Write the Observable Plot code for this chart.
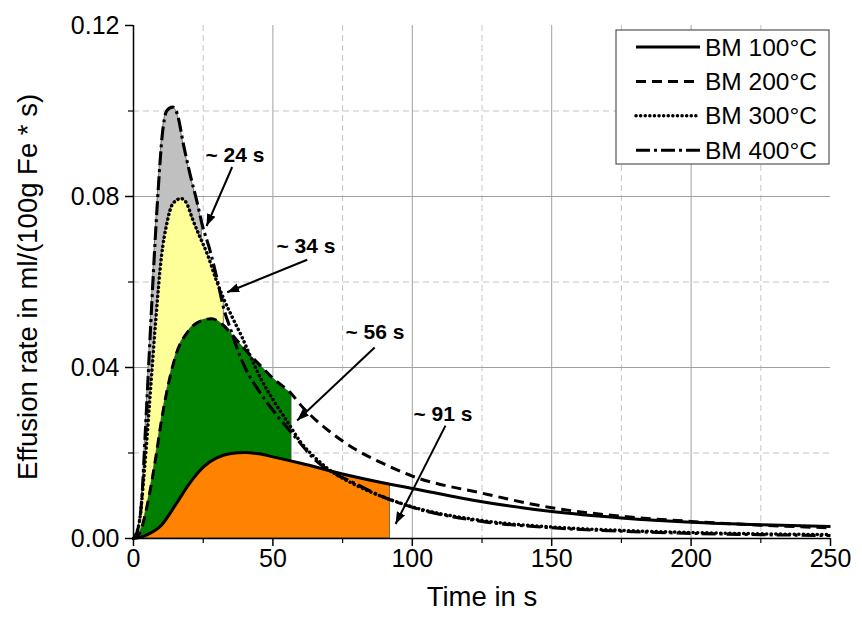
<!DOCTYPE html>
<html><head><meta charset="utf-8">
<script src="https://cdn.jsdelivr.net/npm/d3@7"></script>
<script src="https://cdn.jsdelivr.net/npm/@observablehq/plot@0.6"></script>
<style>body{margin:0;background:#fff;} svg{font-family:"Liberation Sans",Arial,sans-serif;}</style>
</head><body><div id="chart"></div>
<script>
// ---- data ----
const seriesNames = ["BM 100°C", "BM 200°C", "BM 300°C", "BM 400°C"];

const t100 = [0, 2, 5, 10, 15, 20, 25, 30, 35, 40, 45, 50, 60, 75, 92, 100, 125, 150, 175, 200, 225, 250];
const v100 = [0, 0.0002, 0.0009, 0.0031, 0.0078, 0.0128, 0.0167, 0.0189, 0.0199, 0.0201, 0.0198, 0.0191, 0.0176, 0.0151, 0.0127, 0.0117, 0.0086, 0.0063, 0.0048, 0.0038, 0.0032, 0.0028];

const t200 = [0, 2, 5, 8, 10, 12, 15, 20, 25, 28, 32, 36, 40, 45, 50, 56.7, 60, 70, 80, 90, 100, 125, 150, 175, 200, 225, 250];
const v200 = [0, 0.001, 0.008, 0.019, 0.0275, 0.0345, 0.0425, 0.0488, 0.0511, 0.0514, 0.0500, 0.0472, 0.0442, 0.0408, 0.0375, 0.0338, 0.0312, 0.0252, 0.0207, 0.0174, 0.0146, 0.0106, 0.0072, 0.0052, 0.0040, 0.0031, 0.0025];

const t300 = [0, 2, 4, 6, 8, 10, 12, 14, 17, 19, 21, 23.5, 26.5, 29.5, 32.4, 36, 39, 42, 46, 50, 55, 60, 65, 70, 80, 90, 100, 125, 150, 175, 200, 225, 250];
const v300 = [0, 0.0035, 0.0166, 0.0338, 0.0512, 0.0658, 0.0738, 0.0782, 0.0795, 0.0785, 0.0750, 0.0710, 0.0665, 0.0608, 0.0560, 0.0510, 0.0470, 0.0425, 0.0370, 0.0325, 0.0275, 0.0225, 0.0190, 0.0162, 0.0124, 0.0096, 0.0074, 0.0042, 0.0027, 0.0019, 0.0014, 0.0011, 0.0009];

const t400 = [0, 1.3, 3, 4.3, 5.5, 6.7, 8, 9, 10.3, 12, 14, 15.7, 18, 20.4, 22.8, 24.5, 27.6, 30, 32.4, 34.8, 37.2, 40, 45, 50, 57, 65, 80, 90, 100, 125, 150, 175, 200, 225, 250];
const v400 = [0, 0.0015, 0.0095, 0.0257, 0.0412, 0.0568, 0.0724, 0.083, 0.0943, 0.1001, 0.1009, 0.0993, 0.0919, 0.0849, 0.0787, 0.0738, 0.067, 0.0607, 0.0537, 0.049, 0.0444, 0.0400, 0.0345, 0.0300, 0.0245, 0.0185, 0.0127, 0.0096, 0.0073, 0.0040, 0.0025, 0.0017, 0.0012, 0.0009, 0.0007];

const fillEnd = [92, 56.7, 32.4, 24.5];
const fillColors = ["#ff8200", "#008000", "#ffff99", "#c0c0c0"];

const xTicks = [0, 50, 100, 150, 200, 250];
const xMinor = [25, 75, 125, 175, 225];
const yTicks = [0, 0.04, 0.08, 0.12];
const yMinor = [0.02, 0.06, 0.10];

const noteText = ["~ 24 s", "~ 34 s", "~ 56 s", "~ 91 s"];
const noteX = [25.8, 51.3, 76, 100.4];
const noteY = [0.0896, 0.0683, 0.0482, 0.029];
const arrowX1 = [35.4, 62.3, 86.5, 111.9];
const arrowY1 = [0.0869, 0.0652, 0.0447, 0.0264];
const arrowX2 = [26.2, 33.6, 58.7, 94];
const arrowY2 = [0.0731, 0.0576, 0.0276, 0.0034];

// ---- build ----
const tArr = [t100, t200, t300, t400];
const vArr = [v100, v200, v300, v400];
const styles = [
  {strokeDasharray: null, strokeLinecap: "butt", strokeWidth: 3},
  {strokeDasharray: "10,6", strokeLinecap: "butt", strokeWidth: 3},
  {strokeDasharray: "0.1,4.5", strokeLinecap: "round", strokeWidth: 3.5},
  {strokeDasharray: "14,4,3,4", strokeLinecap: "butt", strokeWidth: 3.1}
];
const rows = seriesNames.map((s, i) => tArr[i].map((t, j) => ({t, v: vArr[i][j], s})));
const notes = noteText.map((txt, i) => ({txt, x: noteX[i], y: noteY[i], x1: arrowX1[i], y1: arrowY1[i], x2: arrowX2[i], y2: arrowY2[i]}));

const gridDash = {stroke: "#c4c4c4", strokeOpacity: 1, strokeDasharray: "6,4", strokeWidth: 1};
const gridSolid = {stroke: "#a0a0a0", strokeOpacity: 1, strokeWidth: 1};

const fills = [3, 2, 1, 0].map(i => Plot.areaY(rows[i].filter(d => d.t <= fillEnd[i]), {
  x: "t", y: "v", fill: fillColors[i], fillOpacity: 1, stroke: "#444", strokeWidth: 0.7, curve: "monotone-x"
}));
const lines = [0, 1, 2, 3].map(i => Plot.line(rows[i], {
  x: "t", y: "v", stroke: "black", curve: "monotone-x", ...styles[i]
}));

const chart = Plot.plot({
  width: 862, height: 622,
  marginLeft: 133, marginRight: 32, marginTop: 25, marginBottom: 84,
  x: {domain: [0, 250]},
  y: {domain: [0, 0.12]},
  style: {fontFamily: "Liberation Sans, Arial, sans-serif", background: "white", color: "black"},
  marks: [
    Plot.gridX(xMinor, gridDash),
    Plot.gridX([50, 100, 150, 200], gridSolid),
    Plot.gridY(yMinor, gridDash),
    Plot.gridY([0.04, 0.08], gridSolid),
    ...fills,
    ...lines,
    Plot.ruleX([0], {stroke: "black", strokeWidth: 1.5}),
    Plot.ruleY([0], {stroke: "black", strokeWidth: 1.5}),
    Plot.axisX({ticks: xTicks, tickSize: 8, tickPadding: 3, fontSize: 25, label: null, tickFormat: d3.format("d"), strokeWidth: 1.5}),
    Plot.axisX({ticks: xMinor, tickSize: 5, tickFormat: () => "", label: null, strokeWidth: 1.2}),
    Plot.axisY({ticks: yTicks, tickSize: 8, tickPadding: 6, fontSize: 25, label: null, tickFormat: d3.format(".2f"), strokeWidth: 1.5}),
    Plot.axisY({ticks: yMinor, tickSize: 5, tickFormat: () => "", label: null, strokeWidth: 1.2}),
    Plot.text(["Time in s"], {text: d => d, frameAnchor: "bottom", dy: 67, fontSize: 27.5}),
    Plot.text(["Effusion rate in ml/(100g Fe * s)"], {text: d => d, frameAnchor: "left", textAnchor: "middle", rotate: -90, dx: -105, dy: 5, fontSize: 27.5}),
    Plot.link(notes, {x1: "x1", y1: "y1", x2: "x2", y2: "y2", stroke: "black", strokeWidth: 2, markerEnd: "arrow"}),
    Plot.text(notes, {x: "x", y: "y", text: "txt", textAnchor: "start", fontSize: 21, fontWeight: "bold"})
  ]
});

document.getElementById("chart").appendChild(chart);
const svg = d3.select(chart.tagName.toLowerCase() === "svg" ? chart : chart.querySelector("svg"));

// filled arrow heads
svg.selectAll("marker").each(function() {
  const m = d3.select(this);
  m.attr("markerWidth", 12).attr("markerHeight", 12).attr("fill", "black").attr("stroke", "none");
  m.selectAll("*").remove();
  m.append("path").attr("d", "M-5,-1.9L0,0L-5,1.9Z").attr("fill", "black").attr("stroke", "none");
});

// legend
const lg = svg.append("g").attr("text-anchor", "start");
lg.append("rect").attr("x", 616).attr("y", 30).attr("width", 213).attr("height", 134)
  .attr("fill", "white").attr("stroke", "#333").attr("stroke-width", 1);
seriesNames.forEach((name, i) => {
  const cy = 47 + i * 34.4;
  const ln = lg.append("line").attr("x1", 636).attr("x2", 700).attr("y1", cy).attr("y2", cy)
    .attr("stroke", "black").attr("stroke-width", styles[i].strokeWidth).attr("stroke-linecap", styles[i].strokeLinecap);
  if (styles[i].strokeDasharray) ln.attr("stroke-dasharray", styles[i].strokeDasharray);
  lg.append("text").attr("x", 705).attr("y", cy).attr("dy", "0.35em").attr("text-anchor", "start")
    .attr("font-size", 24.5).attr("fill", "black").text(name);
});
</script>
</body></html>
